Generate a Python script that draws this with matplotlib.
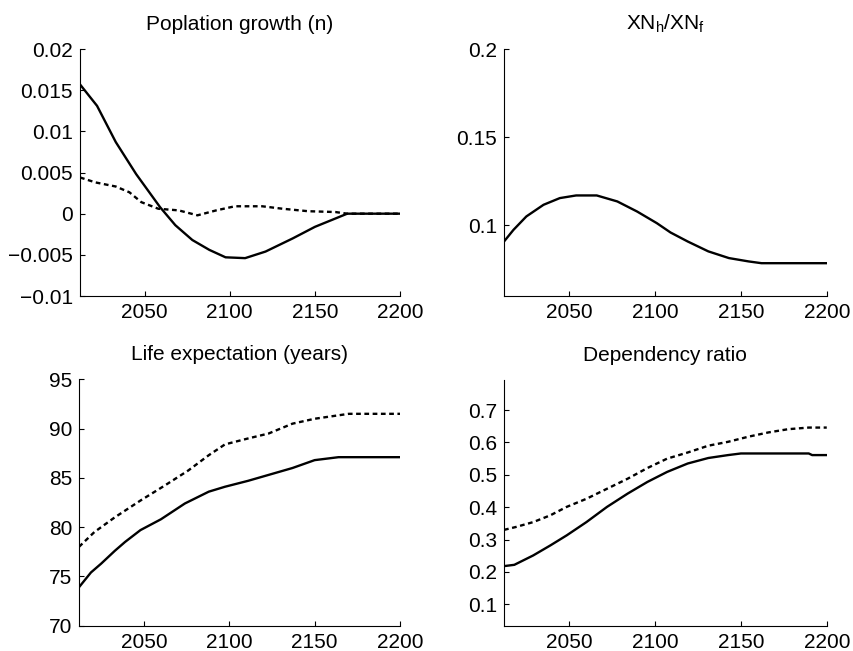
import matplotlib
matplotlib.use("Agg")
import matplotlib.pyplot as plt

plt.rcParams["font.family"] = ["Liberation Sans", "DejaVu Sans"]
plt.rcParams["mathtext.fontset"] = "custom"
plt.rcParams["mathtext.rm"] = "Liberation Sans"
plt.rcParams["mathtext.it"] = "Liberation Sans"

# --- data ------------------------------------------------------------------

# population growth (n)
growth_solid_x = [2012, 2022, 2033, 2045, 2059, 2068, 2078, 2088, 2097.5, 2109,
                  2121, 2137, 2150, 2169, 2200]
growth_solid_y = [0.0157, 0.0131, 0.0087, 0.0048, 0.0008, -0.0014, -0.0032, -0.0044,
                  -0.0053, -0.0054, -0.0046, -0.0030, -0.0016, 0.0, 0.0]
growth_dash_x = [2012, 2021, 2033, 2041, 2048, 2058, 2070, 2081, 2092, 2103,
                 2119, 2131, 2146, 2162, 2169, 2200]
growth_dash_y = [0.0044, 0.0038, 0.0033, 0.0026, 0.0014, 0.0006, 0.0004, -0.0002,
                 0.0004, 0.0009, 0.0009, 0.0006, 0.0003, 0.0002, 0.0, 0.0]

# XN_h / XN_f
xn_x = [2012, 2017.5, 2025, 2035, 2044.5, 2054, 2066, 2078, 2089.5, 2101,
        2109, 2119, 2131, 2143, 2154.5, 2162, 2200]
xn_y = [0.0909, 0.0975, 0.1051, 0.1117, 0.1155, 0.1170, 0.1170, 0.1136, 0.1079,
        0.1013, 0.0960, 0.0909, 0.0853, 0.0815, 0.0796, 0.0786, 0.0786]

# life expectation (years)
life_solid_x = [2012, 2019, 2025, 2033, 2039, 2048, 2060, 2074, 2088, 2097.5,
                2111, 2123, 2137, 2150, 2164, 2200]
life_solid_y = [73.9, 75.4, 76.3, 77.6, 78.5, 79.7, 80.8, 82.4, 83.6, 84.1,
                84.7, 85.3, 86.0, 86.8, 87.1, 87.1]
life_dash_x = [2012, 2021, 2033, 2048, 2062, 2076, 2088, 2097.5, 2111, 2123,
               2137, 2150, 2162, 2170, 2200]
life_dash_y = [78.0, 79.5, 81.0, 82.7, 84.2, 85.75, 87.3, 88.4, 89.0, 89.5,
               90.5, 91.0, 91.3, 91.5, 91.5]

# dependency ratio
dep_solid_x = [2012, 2018, 2029, 2039, 2048.5, 2060, 2072, 2084, 2095.5, 2107,
               2119, 2131, 2142.5, 2150, 2189.5, 2191.5, 2200]
dep_solid_y = [0.218, 0.222, 0.251, 0.282, 0.313, 0.354, 0.401, 0.442, 0.478,
               0.509, 0.535, 0.552, 0.561, 0.566, 0.566, 0.561, 0.561]
dep_dash_x = [2012, 2019, 2029, 2039, 2048.5, 2060, 2072, 2084, 2095.5, 2107,
              2119, 2131, 2142.5, 2154.5, 2166, 2177.5, 2189.5, 2200]
dep_dash_y = [0.330, 0.339, 0.354, 0.375, 0.401, 0.426, 0.457, 0.488, 0.521,
              0.550, 0.569, 0.590, 0.602, 0.618, 0.631, 0.641, 0.646, 0.646]

titles = ["Poplation growth (n)", r"XN$_\mathrm{h}$/XN$_\mathrm{f}$",
          "Life expectation (years)", "Dependency ratio"]

x_ticks = [2050, 2100, 2150, 2200]
growth_ticks = [-0.01, -0.005, 0, 0.005, 0.01, 0.015, 0.02]
growth_labels = ["\u22120.01", "\u22120.005", "0", "0.005", "0.01", "0.015", "0.02"]
xn_ticks = [0.1, 0.15, 0.2]
xn_labels = ["0.1", "0.15", "0.2"]
life_ticks = [70, 75, 80, 85, 90, 95]
dep_ticks = [0.1, 0.2, 0.3, 0.4, 0.5, 0.6, 0.7]
dep_labels = ["0.1", "0.2", "0.3", "0.4", "0.5", "0.6", "0.7"]

FS = 15
LW = 1.7
DASH = (0, (2.0, 1.5))


def style(ax, title):
    for side in ["top", "right"]:
        ax.spines[side].set_visible(False)
    for side in ["left", "bottom"]:
        ax.spines[side].set_linewidth(0.8)
    ax.tick_params(direction="in", length=3.5, width=0.8, labelsize=FS, pad=5)
    ax.set_xlim(2012, 2200)
    ax.set_xticks(x_ticks)
    ax.set_title(title, fontsize=FS, pad=14)


fig = plt.figure(figsize=(8.54, 6.51), dpi=100)
ax1 = fig.add_axes([0.0937, 0.5453, 0.3747, 0.3794])
ax2 = fig.add_axes([0.5902, 0.5453, 0.3779, 0.3794])
ax3 = fig.add_axes([0.0925, 0.0389, 0.3759, 0.3784])
ax4 = fig.add_axes([0.5902, 0.0389, 0.3779, 0.3774])

ax1.plot(growth_solid_x, growth_solid_y, color="black", lw=LW)
ax1.plot(growth_dash_x, growth_dash_y, color="black", lw=LW, ls=DASH)
style(ax1, titles[0])
ax1.set_ylim(-0.01, 0.02)
ax1.set_yticks(growth_ticks, growth_labels)

ax2.plot(xn_x, xn_y, color="black", lw=LW)
style(ax2, titles[1])
ax2.set_ylim(0.06, 0.2)
ax2.set_yticks(xn_ticks, xn_labels)

ax3.plot(life_solid_x, life_solid_y, color="black", lw=LW)
ax3.plot(life_dash_x, life_dash_y, color="black", lw=LW, ls=DASH)
style(ax3, titles[2])
ax3.set_ylim(70, 95)
ax3.set_yticks(life_ticks)

ax4.plot(dep_solid_x, dep_solid_y, color="black", lw=LW)
ax4.plot(dep_dash_x, dep_dash_y, color="black", lw=LW, ls=DASH)
style(ax4, titles[3])
ax4.set_ylim(0.034, 0.793)
ax4.set_yticks(dep_ticks, dep_labels)

fig.savefig("out.png", dpi=100, facecolor="white")
